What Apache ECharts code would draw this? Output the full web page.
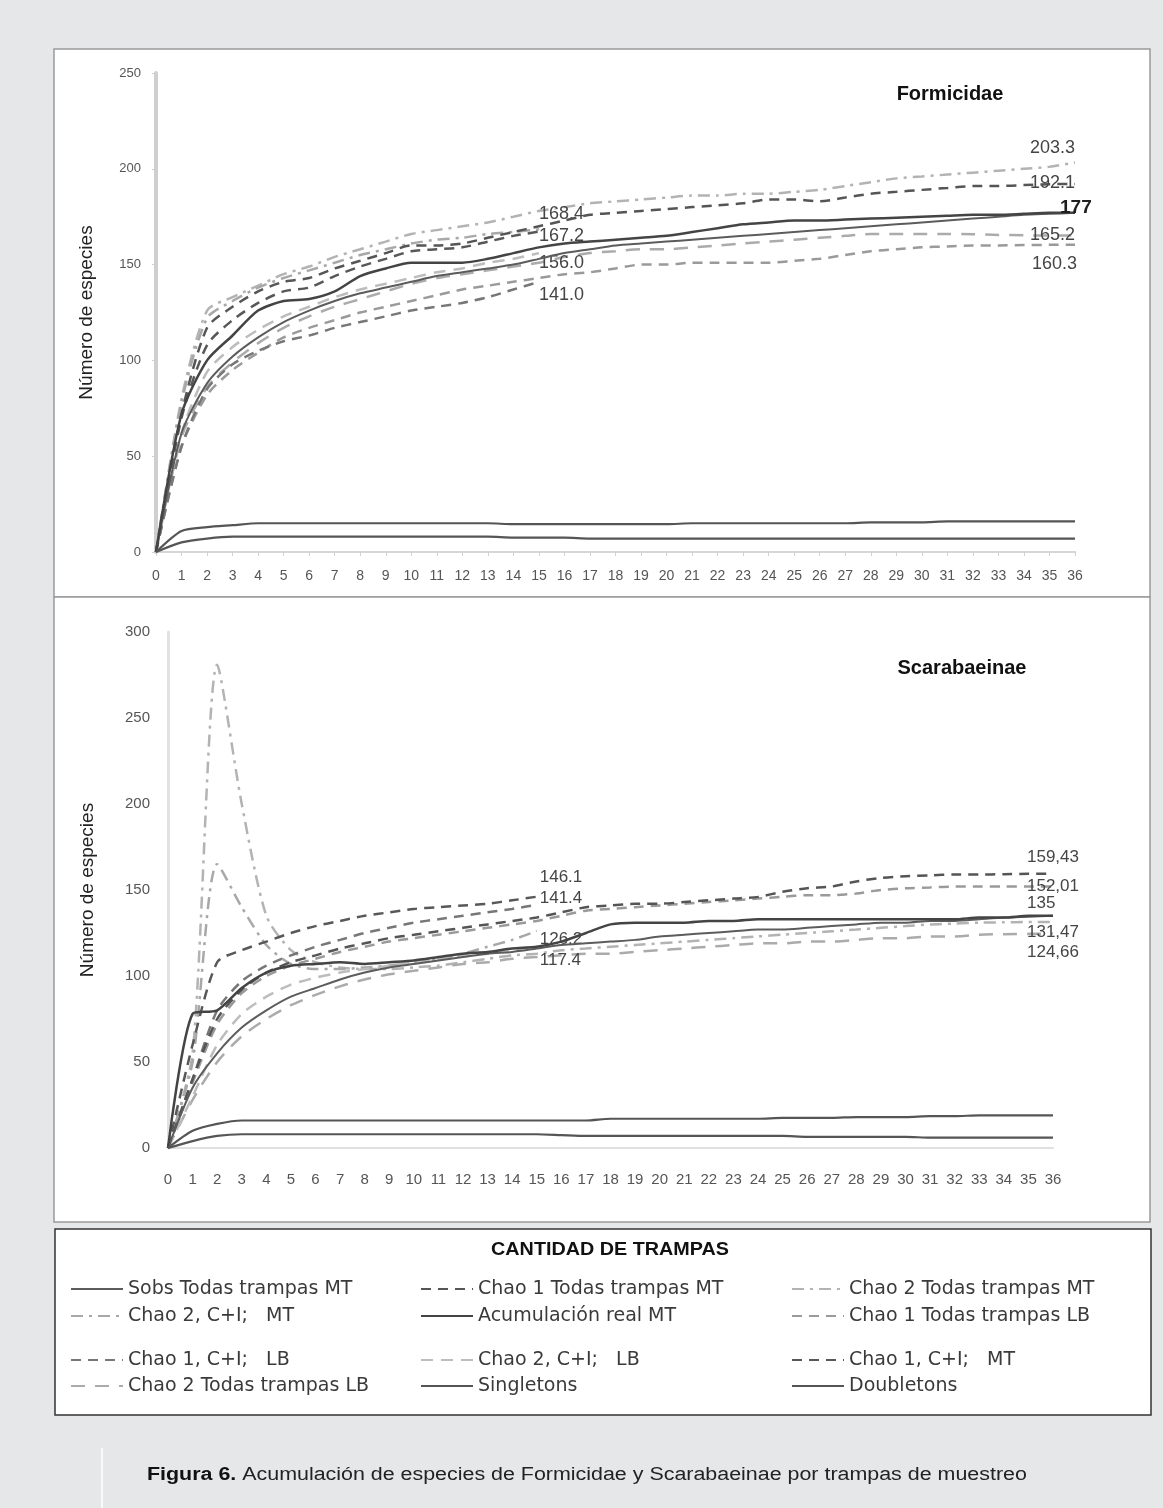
<!DOCTYPE html>
<html><head><meta charset="utf-8">
<script src="https://cdn.jsdelivr.net/npm/echarts@6/dist/echarts.min.js"></script>
<style>html,body{margin:0;padding:0;background:#e6e7e9;}#c{width:1163px;height:1508px;}</style>
</head><body><div id="c"></div>
<script>
// ---------- tick labels ----------
const xTicks = ['0','1','2','3','4','5','6','7','8','9','10','11','12','13','14','15','16','17','18','19','20','21','22','23','24','25','26','27','28','29','30','31','32','33','34','35','36'];

// ---------- series names (legend order) ----------
const nSobs = 'Sobs Todas trampas MT';
const nChao1MT = 'Chao 1 Todas trampas MT';
const nChao2MT = 'Chao 2 Todas trampas MT';
const nChao2CIMT = 'Chao 2, C+I;   MT';
const nAcum = 'Acumulación real MT';
const nChao1LB = 'Chao 1 Todas trampas LB';
const nChao1CILB = 'Chao 1, C+I;   LB';
const nChao2CILB = 'Chao 2, C+I;   LB';
const nChao1CIMT = 'Chao 1, C+I;   MT';
const nChao2LB = 'Chao 2 Todas trampas LB';
const nSing = 'Singletons';
const nDoub = 'Doubletons';

// ---------- Formicidae values ----------
const formSobsMT = [0,62,88,102,112,120,126,131,135,138,141,144,146,148,150,153,156,158,160,161,162,163,164,165,166,167,168,169,170,171,172,173,174,175,176,176.5,177];
const formAcumMT = [0,72,100,113,126,131,132,136,144,148,151,151,151,153,156,159,161,162,163,164,165,167,169,171,172,173,173,173.5,174,174.5,175,175.5,176,176,176.5,177,177];
const formChao2MT = [0,80,126,133,139,145,149,154,158,162,166,168,170,172,175,178,180,182,183,184,185,186,186,187,187,188,189,191,193,195,196,197,198,199,200,201,203.3];
const formChao1MT = [0,72,117,128,136,141,143,148,152,156,160,160,161,164,167,170,173,176,177,178,179,180,181,182,184,184,183,185,187,188,189,190,191,191,191.5,192,192.1];
const formChao2LB = [0,60,86,99,109,117,123,128,132,136,140,143,145,147,149,151,154,156,157,158,158,159,160,161,162,163,164,165,166,166,166,166,165.8,165.5,165.3,165.2,165.2];
const formChao1LB = [0,55,82,95,104,112,117,121,125,128,131,134,137,139,141,143,145,146,148,150,150,151,151,151,151,152,153,155,157,158,159,159.5,160,160,160.2,160.3,160.3];
const formChao2CIMT = [0,78,122,131,138,143,147,151,155,158,161,163,164,166,167,168.4];
const formChao1CIMT = [0,70,108,121,130,136,138,144,149,153,157,158,159,162,165,167.2];
const formChao2CILB = [0,62,94,107,116,123,128,133,137,140,143,146,148,151,153,156.0];
const formChao1CILB = [0,55,85,98,105,110,113,117,120,123,126,128,130,133,137,141.0];
const formSing = [0,11,13,14,15,15,15,15,15,15,15,15,15,15,14.5,14.5,14.5,14.5,14.5,14.5,14.5,15,15,15,15,15,15,15,15.5,15.5,15.5,16,16,16,16,16,16];
const formDoub = [0,5,7,8,8,8,8,8,8,8,8,8,8,8,7.5,7.5,7.5,7,7,7,7,7,7,7,7,7,7,7,7,7,7,7,7,7,7,7,7];

// ---------- Scarabaeinae values ----------
const scarSobsMT = [0,35,55,70,80,88,93,98,102,105,107,109,111,113,114,116,118,119,120,121,123,124,125,126,127,127,128,129,130,131,131,132,132,133,134,134.5,135];
const scarAcumMT = [0,78,80,93,102,106,107,108,107,108,109,111,113,114,116,117,120,125,130,131,131,131,132,132,133,133,133,133,133,133,133,133,133,134,134,135,135];
const scarChao1MT = [0,40,75,92,102,108,112,116,119,122,124,126,128,130,132,134,137,140,141,142,142,143,144,145,146,149,151,152,155,157,158,158.5,159,159,159.2,159.4,159.43];
const scarChao1LB = [0,38,72,90,100,106,110,114,117,120,122,124,126,128,130,132,135,138,139,140,141,142,143,144,145,146,147,147,148,150,151,151.5,152,152,152,152,152.01];
const scarChao2MT = [0,55,281,200,135,115,108,105,104,104,105,106,108,110,112,113,115,116,117,118,119,120,121,122,123,124,125,126,127,128,129,130,130.5,131,131.2,131.4,131.47];
const scarChao2LB = [0,28,50,65,75,83,89,94,98,101,103,105,107,108,110,111,112,113,113,114,115,116,117,118,119,119,120,120,121,122,122,123,123,124,124.3,124.5,124.66];
const scarChao1CIMT = [0,60,108,115,120,125,129,132,135,137,139,140,141,142,144,146.1];
const scarChao1CILB = [0,40,80,97,106,112,117,121,125,128,131,133,135,137,139,141.4];
const scarChao2CIMT = [0,50,165,140,118,107,104,104,105,106,108,110,113,117,121,126.2];
const scarChao2CILB = [0,30,60,78,88,95,99,102,104,106,108,110,112,113,115,117.4];
const scarSing = [0,10,14,16,16,16,16,16,16,16,16,16,16,16,16,16,16,16,17,17,17,17,17,17,17,17.5,17.5,17.5,18,18,18,18.5,18.5,19,19,19,19];
const scarDoub = [0,4,7,8,8,8,8,8,8,8,8,8,8,8,8,8,7.5,7,7,7,7,7,7,7,7,7,6.5,6.5,6.5,6.5,6.5,6,6,6,6,6,6];

// ---------- styles (not data) ----------
const lineStyles = {};
lineStyles[nSobs]      = {color:'#5c5c5c', width:2,   type:'solid', z:5};
lineStyles[nChao1MT]   = {color:'#555555', width:2.5, type:[10,7], z:4};
lineStyles[nChao2MT]   = {color:'#b3b3b3', width:2.5, type:[12,6,3,6], z:3};
lineStyles[nChao2CIMT] = {color:'#a8a8a8', width:2.5, type:[12,6,3,6], z:3};
lineStyles[nAcum]      = {color:'#444444', width:2.5, type:'solid', z:5};
lineStyles[nChao1LB]   = {color:'#9a9a9a', width:2.5, type:[10,7], z:3};
lineStyles[nChao1CILB] = {color:'#777777', width:2.5, type:[10,7], z:3};
lineStyles[nChao2CILB] = {color:'#bdbdbd', width:2.5, type:[12,8], z:3};
lineStyles[nChao1CIMT] = {color:'#585858', width:2.5, type:[10,7], z:4};
lineStyles[nChao2LB]   = {color:'#ababab', width:2.5, type:[14,10], z:3};
lineStyles[nSing]      = {color:'#555555', width:2.2, type:'solid', z:5};
lineStyles[nDoub]      = {color:'#555555', width:2.2, type:'solid', z:5};

// label placement: [text, dx, dy, fontSize, bold]
function mk(name, data, g, lab) {
  const st = lineStyles[name];
  const s = {
    type:'line', name:name, data:data, xAxisIndex:g, yAxisIndex:g,
    symbol:'none', showSymbol:false, smooth:0.25, z:st.z,
    lineStyle:{color:st.color, width:st.width, type:st.type},
    itemStyle:{color:st.color}, emphasis:{disabled:true}
  };
  if (lab) {
    s.endLabel = {show:true, formatter:lab[0], distance:8, offset:[lab[1], lab[2]],
      color: lab[4] ? '#1e1e1e' : '#454545', fontSize:lab[3], fontWeight: lab[4] ? 'bold':'normal',
      fontFamily:'Liberation Sans'};
  }
  return s;
}

const series = [
  mk(nSobs, formSobsMT, 0),
  mk(nAcum, formAcumMT, 0, ['177', -23, -5, 19, true]),
  mk(nChao2MT, formChao2MT, 0, ['203.3', -53, -14, 18]),
  mk(nChao1MT, formChao1MT, 0, ['192.1', -53, -1, 18]),
  mk(nChao2LB, formChao2LB, 0, ['165.2', -53, 0, 18]),
  mk(nChao1LB, formChao1LB, 0, ['160.3', -51, 19, 18]),
  mk(nChao2CIMT, formChao2CIMT, 0, ['168.4', -8, -15, 18]),
  mk(nChao1CIMT, formChao1CIMT, 0, ['167.2', -8, 4, 18]),
  mk(nChao2CILB, formChao2CILB, 0, ['156.0', -8, 10, 18]),
  mk(nChao1CILB, formChao1CILB, 0, ['141.0', -8, 13, 18]),
  mk(nSing, formSing, 0),
  mk(nDoub, formDoub, 0),

  mk(nSobs, scarSobsMT, 1),
  mk(nAcum, scarAcumMT, 1, ['135', -34, -12, 17]),
  mk(nChao1MT, scarChao1MT, 1, ['159,43', -34, -16, 17]),
  mk(nChao1LB, scarChao1LB, 1, ['152,01', -34, 0, 17]),
  mk(nChao2MT, scarChao2MT, 1, ['131,47', -34, 10, 17]),
  mk(nChao2LB, scarChao2LB, 1, ['124,66', -34, 19, 17]),
  mk(nChao1CIMT, scarChao1CIMT, 1, ['146.1', -5, -19, 17]),
  mk(nChao1CILB, scarChao1CILB, 1, ['141.4', -5, -6, 17]),
  mk(nChao2CIMT, scarChao2CIMT, 1, ['126.2', -5, 8, 17]),
  mk(nChao2CILB, scarChao2CILB, 1, ['117.4', -5, 14, 17]),
  mk(nSing, scarSing, 1),
  mk(nDoub, scarDoub, 1)
];

// ---------- legend layout ----------
const legendRows = [
  [nSobs, nChao1MT, nChao2MT],
  [nChao2CIMT, nAcum, nChao1LB],
  [nChao1CILB, nChao2CILB, nChao1CIMT],
  [nChao2LB, nSing, nDoub]
];
const colLeft = [70, 420, 791];
const rowCenter = [1289, 1316, 1360, 1386];
const legends = [];
legendRows.forEach((row, r) => row.forEach((nm, c) => {
  legends.push({data:[nm], left:colLeft[c], top:rowCenter[r]-12, padding:0, itemWidth:52, itemHeight:14,
    itemGap:0, selectedMode:false, itemStyle:{opacity:0, borderWidth:0},
    textStyle:{fontFamily:'DejaVu Sans', fontSize:19, color:'#3a3a3a', lineHeight:24}});
}));

const axisFont = 'Liberation Sans';
const option = {
  animation:false,
  backgroundColor:'transparent',
  title:[
    {text:'Formicidae', left:950, top:84, textAlign:'center', padding:0,
     textStyle:{fontFamily:'Liberation Sans', fontWeight:'bold', fontSize:20, color:'#111'}},
    {text:'Scarabaeinae', left:962, top:658, textAlign:'center', padding:0,
     textStyle:{fontFamily:'Liberation Sans', fontWeight:'bold', fontSize:20, color:'#111'}}
  ],
  legend: legends,
  graphic:[
    {type:'rect', z:-10, shape:{x:54, y:49, width:1096, height:548}, style:{fill:'#fff', stroke:'#9a9a9a', lineWidth:1.5}},
    {type:'rect', z:-10, shape:{x:54, y:597, width:1096, height:625}, style:{fill:'#fff', stroke:'#9a9a9a', lineWidth:1.5}},
    {type:'rect', z:-10, shape:{x:55, y:1229, width:1096, height:186}, style:{fill:'#fff', stroke:'#333', lineWidth:1.5}},
    {type:'line', z:-10, shape:{x1:102, y1:1448, x2:102, y2:1508}, style:{stroke:'#fafafa', lineWidth:2}},
    {type:'text', x:610, y:1250, scaleX:1.04, style:{text:'CANTIDAD DE TRAMPAS', align:'center', verticalAlign:'middle',
      font:'bold 19px "Liberation Sans"', fill:'#111'}},
    {type:'text', x:147, y:1475, scaleX:1.19, style:{text:'{b|Figura 6.} Acumulación de especies de Formicidae y Scarabaeinae por trampas de muestreo',
      align:'left', verticalAlign:'middle', font:'18px "Liberation Sans"', fill:'#222',
      rich:{b:{font:'bold 18px "Liberation Sans"', fill:'#111'}}}}
  ],
  grid:[
    {left:156, right:88, top:73, height:479},
    {left:168, right:110, top:632, height:516}
  ],
  xAxis:[
    {gridIndex:0, type:'category', data:xTicks, boundaryGap:false,
     axisLabel:{interval:0, fontSize:14, color:'#555', margin:17, fontFamily:axisFont},
     axisLine:{lineStyle:{color:'#d6d6d6', width:2}},
     axisTick:{show:true, length:4, lineStyle:{color:'#d0d0d0'}}},
    {gridIndex:1, type:'category', data:xTicks, boundaryGap:false,
     axisLabel:{interval:0, fontSize:15, color:'#555', margin:24, fontFamily:axisFont},
     axisLine:{lineStyle:{color:'#e0e0e0', width:2}},
     axisTick:{show:false}}
  ],
  yAxis:[
    {gridIndex:0, type:'value', min:0, max:250, interval:50, splitLine:{show:false},
     axisLine:{show:true, lineStyle:{color:'#cfcfcf', width:4}},
     axisTick:{show:true, length:4, lineStyle:{color:'#d0d0d0'}},
     axisLabel:{fontSize:13, color:'#555', margin:15, fontFamily:axisFont},
     name:'Número de especies', nameLocation:'middle', nameGap:60,
     nameTextStyle:{fontSize:19, color:'#222', fontFamily:'Liberation Sans'}},
    {gridIndex:1, type:'value', min:0, max:300, interval:50, splitLine:{show:false},
     axisLine:{show:true, lineStyle:{color:'#e2e2e2', width:3}},
     axisTick:{show:false},
     axisLabel:{fontSize:15, color:'#555', margin:18, fontFamily:axisFont},
     name:'Número de especies', nameLocation:'middle', nameGap:71,
     nameTextStyle:{fontSize:19, color:'#222', fontFamily:'Liberation Sans'}}
  ],
  series: series
};
const chart = echarts.init(document.getElementById('c'), null, {renderer:'canvas'});
chart.setOption(option);
</script></body></html>
